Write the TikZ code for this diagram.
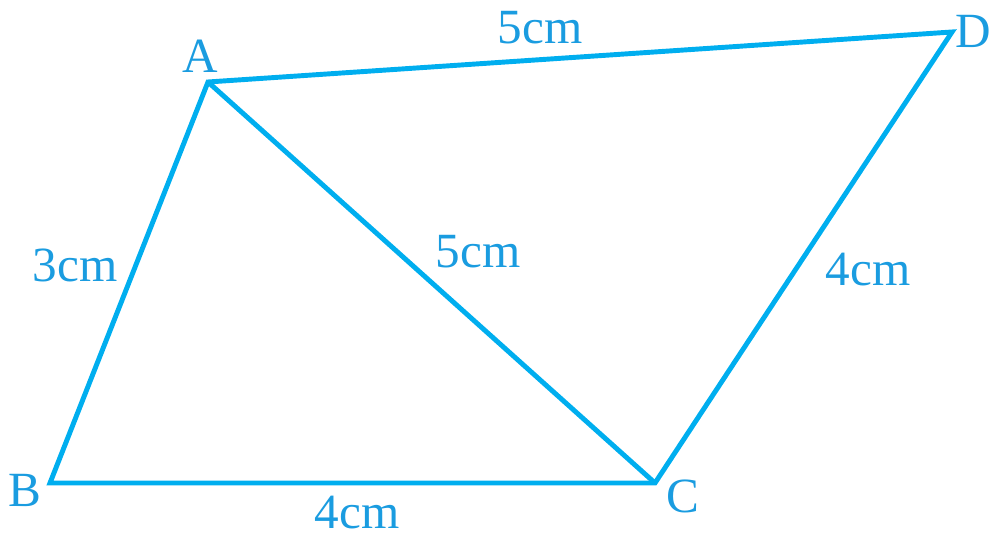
\documentclass[tikz,border=0pt]{standalone}
\usepackage{fontspec}
\setmainfont{Liberation Serif}
\usepackage{tikz}
\usetikzlibrary{calc}
\definecolor{Cyan}{HTML}{00AEEF}
\definecolor{TBlue}{HTML}{1A9CE0}

\begin{document}
\begin{tikzpicture}[
  side/.style={draw=Cyan, line width=2.8pt, line join=miter},
  vlab/.style={text=TBlue, font=\fontsize{28}{30}\selectfont, inner sep=0pt},
  len/.style={text=TBlue, font=\fontsize{28}{30}\selectfont, inner sep=0pt},
]
\useasboundingbox (0,0) rectangle (19.86,10.72);
% vertices
\coordinate (A) at (4.16,9.08);
\coordinate (D) at (19.04,10.08);
\coordinate (B) at (1.0,1.06);
\coordinate (C) at (13.1,1.06);
% sides and diagonal
\draw[side] (B) -- (A) -- (D) -- (C) -- cycle;
\draw[side] (A) -- (C);
% vertex labels
\node[vlab] (lA) at (4.0,9.6) {A};
\node[vlab] (lD) at (19.46,10.1) {D};
\node[vlab] (lB) at (0.5,0.92) {B};
\node[vlab] (lC) at (13.66,0.8) {C};
% lengths
\node[len] (ad) at (10.8,10.16) {5cm};
\node[len] (ab) at (1.5,5.42) {3cm};
\node[len] (ac) at (9.56,5.68) {5cm};
\node[len] (dc) at (17.36,5.32) {4cm};
\node[len] (bc) at (7.14,0.46) {4cm};
\end{tikzpicture}
\end{document}
